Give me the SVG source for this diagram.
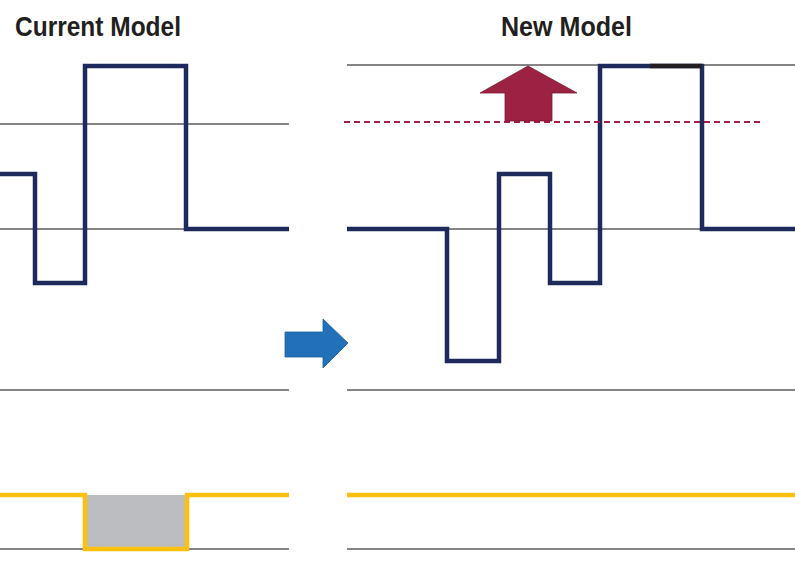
<svg xmlns="http://www.w3.org/2000/svg" width="795" height="564" viewBox="0 0 795 564">
<style>
.title{font-family:"Liberation Sans",Arial,sans-serif;font-size:28.5px;font-weight:bold;fill:#231f20;}
.grid{stroke:#858585;stroke-width:2;fill:none;}
.wave{stroke:#1f2a5c;stroke-width:4.5;fill:none;stroke-linejoin:miter;stroke-linecap:butt;}
.ywave{stroke:#fdc010;stroke-width:4.5;fill:none;stroke-linejoin:miter;}
</style>
<rect width="795" height="564" fill="#ffffff"/>
<g id="titles">
<text class="title" x="15" y="36" textLength="166" lengthAdjust="spacingAndGlyphs">Current Model</text>
<text class="title" x="501" y="36" textLength="131" lengthAdjust="spacingAndGlyphs">New Model</text>
</g>
<g id="grid-left">
<line class="grid" x1="0" y1="124" x2="289" y2="124"/>
<line class="grid" x1="0" y1="229" x2="289" y2="229"/>
<line class="grid" x1="0" y1="390" x2="289" y2="390"/>
<line class="grid" x1="0" y1="549" x2="289" y2="549"/>
</g>
<g id="grid-right">
<line class="grid" x1="347" y1="65" x2="795" y2="65"/>
<line class="grid" x1="347" y1="229" x2="795" y2="229"/>
<line class="grid" x1="347" y1="390" x2="795" y2="390"/>
<line class="grid" x1="347" y1="549" x2="795" y2="549"/>
</g>
<g id="current-wave">
<path class="wave" d="M0,174 H35 V283 H85 V66 H186 V229 H289"/>
</g>
<g id="current-yellow">
<rect x="85" y="495" width="102" height="54" fill="#bcbdc0"/>
<path class="ywave" d="M0,495 H85 V549 H187 V495 H289"/>
</g>
<g id="new-wave">
<path class="wave" d="M347,229 H447 V361 H499 V174 H550 V283 H600 V66 H702 V229 H795"/>
<line x1="650" y1="66" x2="702" y2="66" stroke="#231f20" stroke-width="4.5"/>
</g>
<g id="new-yellow">
<line class="ywave" x1="347" y1="495" x2="795" y2="495"/>
</g>
<g id="threshold">
<line x1="344" y1="122" x2="762" y2="122" stroke="#a51f4a" stroke-width="1.8" stroke-dasharray="6,4"/>
</g>
<g id="up-arrow">
<polygon points="528,66 577,93 552,93 552,121 505,121 505,93 480,93" fill="#9b2242" stroke="#7d1a35" stroke-width="0.8"/>
</g>
<g id="right-arrow">
<polygon points="285,332 323,332 323,319 348,343 323,368 323,357 285,357" fill="#2170b8" stroke="#1c5f9c" stroke-width="0.8"/>
</g>
</svg>
